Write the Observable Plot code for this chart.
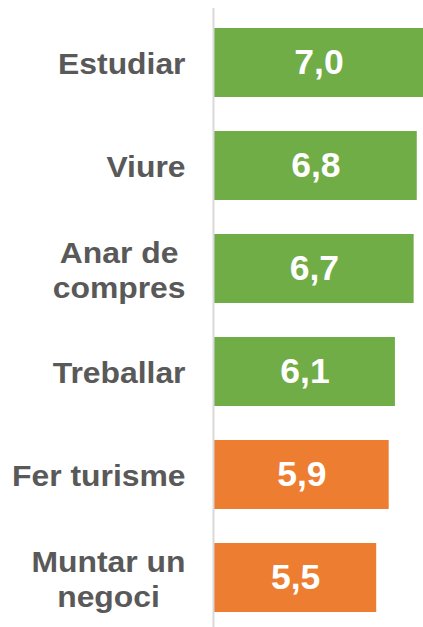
<!DOCTYPE html>
<html>
<head>
<meta charset="utf-8">
<script src="https://cdn.jsdelivr.net/npm/d3@7"></script>
<script src="https://cdn.jsdelivr.net/npm/@observablehq/plot@0.6"></script>
<style>
  html, body { margin: 0; padding: 0; background: #fff; }
  #chart svg { display: block; font-family: "Liberation Sans", Arial, sans-serif; }
</style>
</head>
<body>
<div id="chart"></div>
<script>
const categories = ["Estudiar", "Viure", "Anar de\ncompres", "Treballar", "Fer turisme", "Muntar un\nnegoci"];
const values = [7.0, 6.8, 6.7, 6.1, 5.9, 5.5];
const groups = ["alt", "alt", "alt", "alt", "baix", "baix"];
const colors = {alt: "#70AD47", baix: "#ED7D31"};
const xMin = 0.3, xMax = 7.0;

const data = categories.map((c, i) => ({category: c, value: values[i], group: groups[i]}));

const chart = Plot.plot({
  width: 423,
  height: 627,
  marginLeft: 214,
  marginRight: 0,
  marginTop: 26,
  marginBottom: 14,
  x: {domain: [xMin, xMax], axis: null},
  y: {domain: categories, axis: null, paddingInner: 0.334, paddingOuter: 0},
  marks: [
    Plot.text(data, {
      x: () => xMin, y: "category", text: "category",
      textAnchor: "end", dx: -29, fill: "#595959",
      fontSize: 29.5, fontWeight: "bold", lineHeight: 1.19
    }),
    Plot.barX(data, {
      x1: () => xMin, x2: "value", y: "category",
      fill: d => colors[d.group]
    }),
    Plot.ruleX([xMin], {stroke: "#D9D9D9", strokeWidth: 2, dx: -1, insetTop: -18, insetBottom: -14}),
    Plot.text(data, {
      x: d => (xMin + d.value) / 2, y: "category",
      text: d => d.value.toFixed(1).replace(".", ","),
      fill: "white", fontSize: 35.5, fontWeight: "bold"
    })
  ]
});

document.getElementById("chart").appendChild(chart);

const labelGroup = chart.querySelector('g[aria-label="text"]');
if (labelGroup) {
  labelGroup.querySelectorAll("text").forEach(t => {
    const tr = t.getAttribute("transform") || "";
    const spans = t.querySelectorAll("tspan");
    if (spans.length > 1) {
      const maxW = Math.max(...Array.from(spans, s => s.getComputedTextLength()));
      t.setAttribute("text-anchor", "middle");
      t.setAttribute("transform", tr + " scale(1.08,1) translate(" + (-maxW / 2) + ",0)");
    } else {
      t.setAttribute("transform", tr + " scale(1.08,1)");
    }
  });
}
</script>
</body>
</html>
